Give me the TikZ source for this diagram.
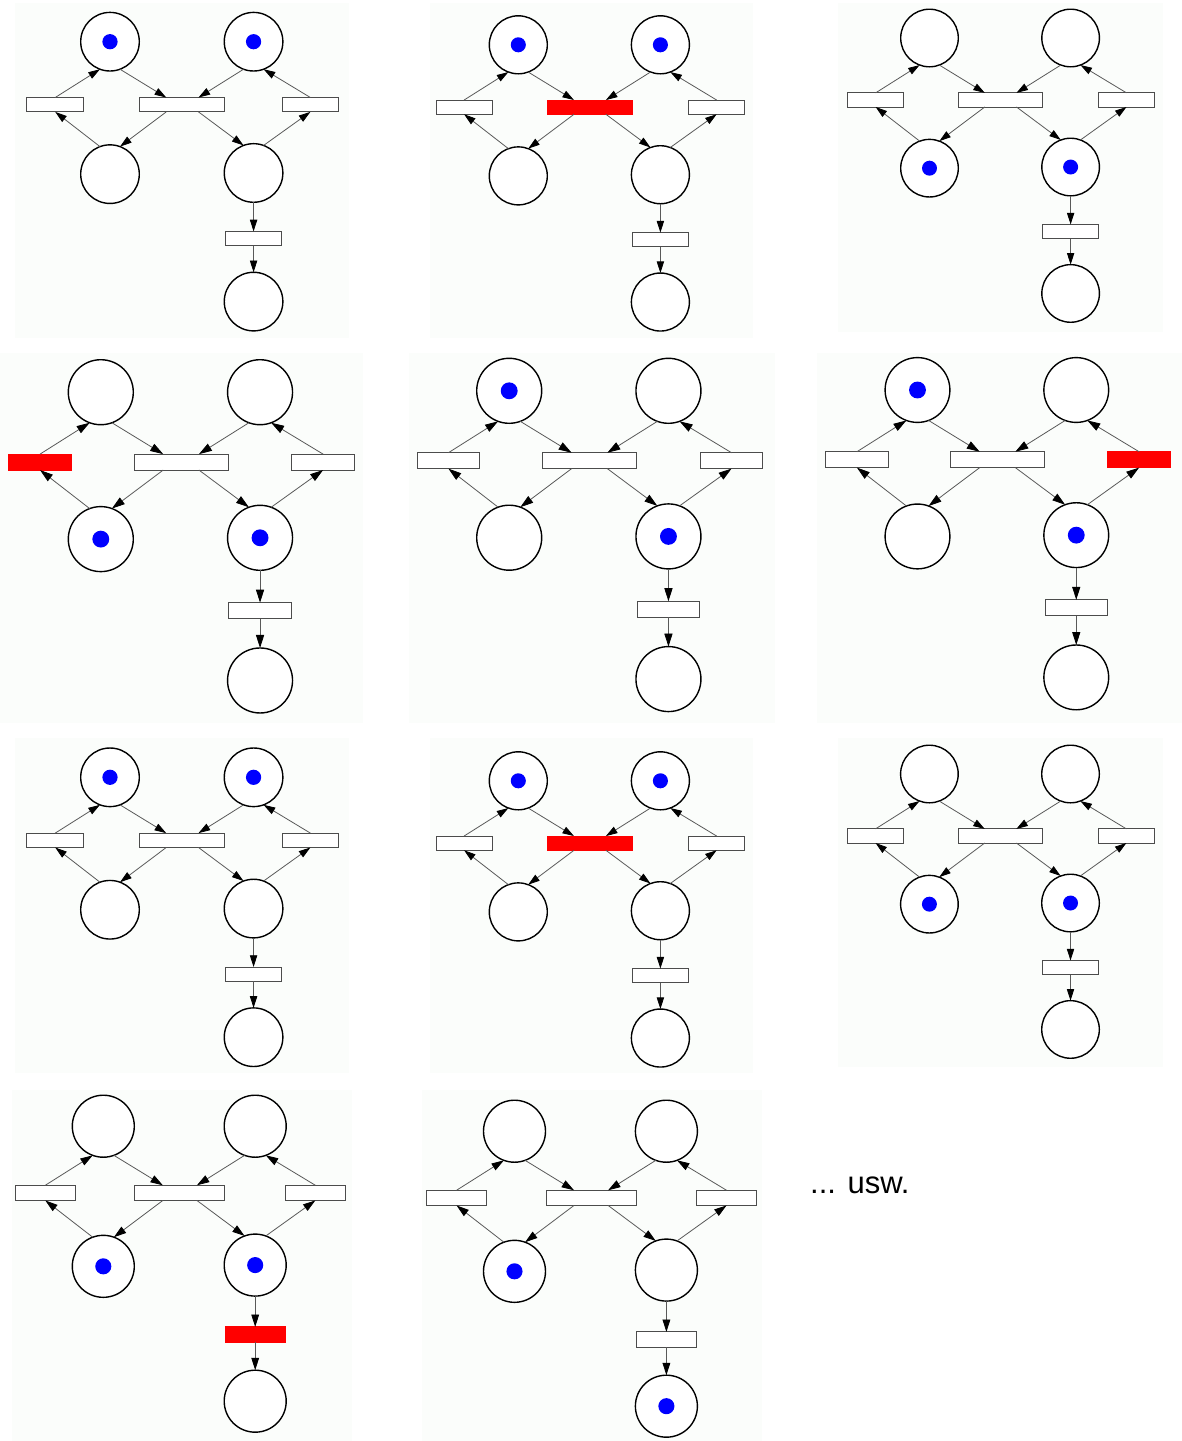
\documentclass[tikz,border=0pt]{standalone}
\usepackage{fontspec}
\setmainfont{Liberation Sans}
\usetikzlibrary{arrows.meta}
\definecolor{panelbg}{RGB}{251,253,251}
\definecolor{tokenblue}{RGB}{0,0,255}
\definecolor{firered}{RGB}{255,0,0}
\tikzset{
  place/.style={circle,draw=black,line width=1.4pt,fill=white,inner sep=0pt,outer sep=0pt},
  trans/.style={rectangle,draw=black!70,line width=0.9pt,fill=white,inner sep=0pt,outer sep=0pt},
  fire/.style={fill=firered,draw=firered},
  panel/.style={fill=panelbg,draw=none},
}
% #1 id, #2 x, #3 y (centre of upper left place), #4 radius, #5 marked places, #6 firing style
\newcommand\petrinet[6]{%
  \pgfmathsetmacro\pdiam{2*#4}%
  \pgfmathsetmacro\pwsm{1.93*#4}%
  \pgfmathsetmacro\pwbg{2.9*#4}%
  \pgfmathsetmacro\pht{0.49*#4}%
  \pgfmathsetmacro\poff{0.55*#4}%
  \pgfmathsetmacro\plen{0.4*#4}%
  \pgfmathsetmacro\pwid{0.25*#4}%
  \pgfmathsetmacro\ptok{0.26*#4}%
  \begin{scope}[shift={(#2,#3)},x=#4pt,y=-#4pt,
      tTL/.style={},tTM/.style={},tTR/.style={},tTE/.style={},#6,
      arc/.style={draw=black!65,line width=0.8pt,
        -{Triangle[length=\plen pt,width=\pwid pt,color=black]}}]
    \node[place,minimum size=\pdiam pt] (#1A) at (0,0) {};
    \node[place,minimum size=\pdiam pt] (#1B) at (4.9,0) {};
    \node[place,minimum size=\pdiam pt] (#1C) at (0,4.52) {};
    \node[place,minimum size=\pdiam pt] (#1D) at (4.9,4.48) {};
    \node[place,minimum size=\pdiam pt] (#1E) at (4.9,8.87) {};
    \node[trans,minimum width=\pwsm pt,minimum height=\pht pt,tTL] (#1TL) at (-1.87,2.15) {};
    \node[trans,minimum width=\pwbg pt,minimum height=\pht pt,tTM] (#1TM) at (2.47,2.15) {};
    \node[trans,minimum width=\pwsm pt,minimum height=\pht pt,tTR] (#1TR) at (6.84,2.15) {};
    \node[trans,minimum width=\pwsm pt,minimum height=\pht pt,tTE] (#1TE) at (4.9,6.72) {};
    \draw[arc] (#1TL.north) -- (#1A.250);
    \draw[arc] (#1A.290) -- ([xshift=-\poff pt]#1TM.north);
    \draw[arc] (#1B.250) -- ([xshift=\poff pt]#1TM.north);
    \draw[arc] (#1TR.north) -- (#1B.290);
    \draw[arc] ([xshift=-\poff pt]#1TM.south) -- (#1C.70);
    \draw[arc] (#1C.110) -- (#1TL.south);
    \draw[arc] ([xshift=\poff pt]#1TM.south) -- (#1D.110);
    \draw[arc] (#1D.70) -- (#1TR.south);
    \draw[arc] (#1D.south) -- (#1TE.north);
    \draw[arc] (#1TE.south) -- (#1E.north);
    \foreach \pk in {#5} {\fill[tokenblue] (#1\pk) circle[radius=\ptok pt];}
  \end{scope}%
}
\begin{document}
\begin{tikzpicture}[x=1pt,y=-1pt]
  \useasboundingbox (0,0) rectangle (1182,1441);
  \fill[white] (0,0) rectangle (1182,1441);
  % panel backgrounds
  \fill[panel] (15,2.5) rectangle (349,338);
  \fill[panel] (430,2.5) rectangle (753,338);
  \fill[panel] (838.3,2.5) rectangle (1163.3,331.5);
  \fill[panel] (0,353.3) rectangle (363.3,722.7);
  \fill[panel] (408.5,353.3) rectangle (775,722.7);
  \fill[panel] (816.7,353.3) rectangle (1182,722.7);
  \fill[panel] (15,738.3) rectangle (349,1073.3);
  \fill[panel] (430,738.3) rectangle (753,1073.3);
  \fill[panel] (838.3,738.3) rectangle (1163.3,1066.7);
  \fill[panel] (11.7,1090) rectangle (351.7,1441);
  \fill[panel] (421.7,1090) rectangle (761.7,1441);
  % nets
  \petrinet{pa}{110}{41.7}{29.3}{A,B}{}
  \petrinet{pb}{518.3}{44.8}{29}{A,B}{tTM/.style=fire}
  \petrinet{pc}{929.5}{38}{28.8}{C,D}{}
  \petrinet{pd}{100.8}{392.2}{32.5}{C,D}{tTL/.style=fire}
  \petrinet{pe}{509.2}{390.8}{32.5}{A,D}{}
  \petrinet{pf}{917.5}{390}{32.4}{A,D}{tTR/.style=fire}
  \petrinet{pg}{110}{777.3}{29.3}{A,B}{}
  \petrinet{ph}{518.3}{780.8}{29}{A,B}{tTM/.style=fire}
  \petrinet{pi}{929.4}{774}{28.8}{C,D}{}
  \petrinet{pj}{103.3}{1126.2}{31}{C,D}{tTE/.style=fire}
  \petrinet{pk}{514.5}{1131.2}{31}{C,E}{}
  \node[anchor=base west,inner sep=0pt,font=\fontsize{31}{38}\selectfont] (usw) at (810,1193.3) {... usw.};
\end{tikzpicture}
\end{document}
